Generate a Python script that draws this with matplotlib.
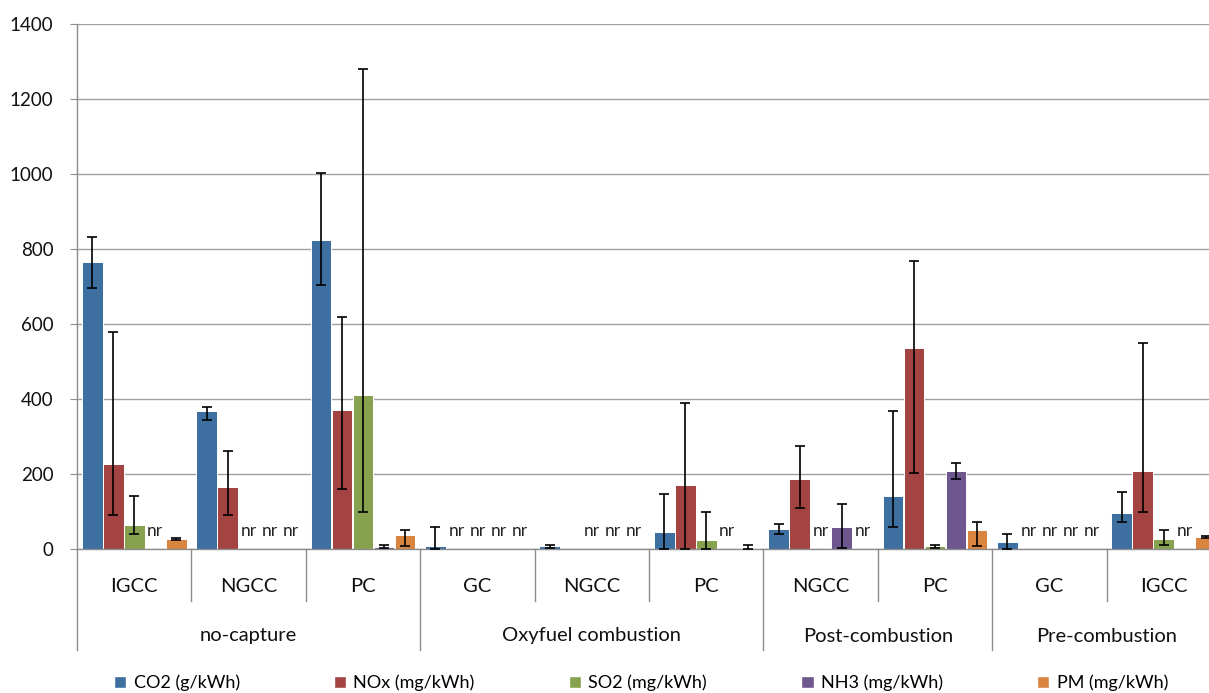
import numpy as np
import matplotlib
matplotlib.use("Agg")
import matplotlib.pyplot as plt
from matplotlib.patches import Patch
from matplotlib.transforms import blended_transform_factory

plt.rcParams['font.family'] = ['Lato', 'DejaVu Sans']

categories = ['IGCC', 'NGCC', 'PC', 'GC', 'NGCC', 'PC', 'NGCC', 'PC', 'GC', 'IGCC']
groups = ['no-capture', 'Oxyfuel combustion', 'Post-combustion', 'Pre-combustion']
group_sizes = [3, 3, 2, 2]

series_names = ['CO2 (g/kWh)', 'NOx (mg/kWh)', 'SO2 (mg/kWh)', 'NH3 (mg/kWh)', 'PM (mg/kWh)']
N = None  # "nr" = not reported

co2 = [765, 369, 825, 9, 7, 45, 53, 141, 19, 96]
co2_lo = [695, 343, 705, 0, 2, 0, 40, 59, 0, 71]
co2_hi = [833, 379, 1003, 60, 12, 147, 67, 369, 41, 151]

nox = [228, 166, 372, N, 0, 170, 186, 535, N, 207]
nox_lo = [90, 90, 159, N, 0, 0, 110, 204, N, 100]
nox_hi = [580, 261, 620, N, 0, 390, 275, 769, N, 549]

so2 = [63, N, 411, N, N, 24, N, 7, N, 26]
so2_lo = [40, N, 100, N, N, 0, N, 2, N, 11]
so2_hi = [141, N, 1280, N, N, 98, N, 12, N, 51]

nh3 = [N, N, 5, N, N, N, 60, 207, N, N]
nh3_lo = [N, N, 3, N, N, N, 2, 187, N, N]
nh3_hi = [N, N, 11, N, N, N, 119, 230, N, N]

pm = [27, N, 38, N, N, 2, N, 50, N, 32]
pm_lo = [25, N, 7, N, N, 0, N, 9, N, 30]
pm_hi = [29, N, 52, N, N, 10, N, 73, N, 35]

values = [co2, nox, so2, nh3, pm]
lows = [co2_lo, nox_lo, so2_lo, nh3_lo, pm_lo]
highs = [co2_hi, nox_hi, so2_hi, nh3_hi, pm_hi]
colors = ['#3D6FA0', '#A44442', '#87A24F', '#6E578E', '#D9843F']

W, H = 1209, 693
fig = plt.figure(figsize=(W / 100, H / 100), dpi=100)
ax = fig.add_axes([77 / W, (H - 549) / H, (W - 77) / W, 525 / H])

step = 0.1836
bw = 0.181
x = np.arange(len(categories))
for k in range(5):
    off = (k - 2) * step
    for i in range(len(categories)):
        v = values[k][i]
        xi = x[i] + off
        if v is None:
            ax.text(xi, 48, 'nr', ha='center', va='center', fontsize=12.5, color='#222222')
            continue
        if v == 0:
            continue
        ax.bar(xi, v, width=bw, color=colors[k], edgecolor='white', linewidth=0.7, zorder=2)
        lo, hi = lows[k][i], highs[k][i]
        ax.errorbar(xi, v, yerr=[[v - lo], [hi - v]], fmt='none', ecolor='black',
                    elinewidth=1.2, capsize=3.4, capthick=1.2, zorder=3, clip_on=False)

ax.set_ylim(0, 1400)
ax.set_yticks(np.arange(0, 1401, 200))
ax.set_xlim(-0.5, -0.5 + (W - 77) / 114.4)
ax.set_xticks([])
ax.grid(axis='y', color='#A0A0A0', linewidth=1.0, zorder=0)
ax.set_axisbelow(True)
for s in ['top', 'right']:
    ax.spines[s].set_visible(False)
ax.spines['left'].set_color('#8C8C8C')
ax.spines['bottom'].set_color('#8C8C8C')
ax.spines['left'].set_linewidth(1.0)
ax.spines['bottom'].set_linewidth(1.0)
ax.tick_params(axis='y', length=5, color='#8C8C8C', labelsize=13.5, pad=12, labelcolor='#111111')

tr = blended_transform_factory(ax.transData, ax.transAxes)
ax_h = 525.0
for i, c in enumerate(categories):
    ax.text(i, -37 / ax_h, c, transform=tr, ha='center', va='center', fontsize=14.5, color='#111111')

bounds = np.cumsum([0] + group_sizes)
group_edges = set(bounds.tolist())
for b in range(0, len(categories) + 1):
    xb = b - 0.5
    y1 = -101 / ax_h if b in group_edges else -52 / ax_h
    ax.plot([xb, xb], [0, y1], transform=tr, color='#8C8C8C', lw=1.0, clip_on=False)

for g, name in enumerate(groups):
    center = (bounds[g] + bounds[g + 1] - 1) / 2
    ax.text(center, -87 / ax_h, name, transform=tr, ha='center', va='center', fontsize=14.5, color='#111111')

handles = [Patch(facecolor=c, edgecolor='white', label=n) for c, n in zip(colors, series_names)]
fig.legend(handles=handles, ncol=5, loc='center', bbox_to_anchor=(0.530, 1 - 683 / H),
           frameon=False, fontsize=13, handlelength=0.7, handleheight=0.7,
           handletextpad=0.4, columnspacing=5.2)

fig.savefig('out.png', dpi=100)
